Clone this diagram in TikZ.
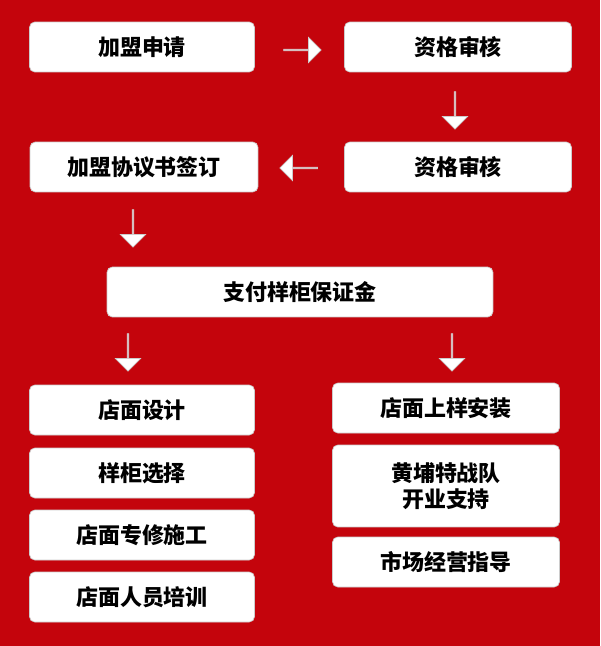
\documentclass[tikz,border=0pt]{standalone}
\usepackage{fontspec}
\newfontfamily\cjk{Noto Sans CJK SC}
\usetikzlibrary{shapes.arrows}
\definecolor{bgred}{RGB}{196,4,12}
\tikzset{
  box/.style={draw=gray!40,fill=white,rounded corners=3pt,minimum height=1cm,
    font=\cjk\bfseries\fontsize{12.5}{15}\selectfont,align=center,inner sep=0pt},
  blk/.style={single arrow,fill=white,draw=gray!40,inner sep=0pt,
    minimum width=0.5cm,single arrow head extend=0.12cm,minimum height=0.75cm}
}
\begin{document}
\begin{tikzpicture}[x=0.02cm,y=-0.02cm]
  \fill[bgred] (0,0) rectangle (600,646);
  % first row
  \node[box,minimum width=4.5cm] (apply) at (142,47) {加盟申请};
  \node[box,minimum width=4.54cm] (check1) at (458,47) {资格审核};
  \node[box,minimum width=4.54cm] (check2) at (458,167) {资格审核};
  \node[box,minimum width=4.56cm] (sign) at (144,167) {加盟协议书签订};
  \node[box,minimum width=7.72cm] (pay) at (300,292) {支付样柜保证金};
  % left column
  \node[box,minimum width=4.5cm] (design) at (142,410) {店面设计};
  \node[box,minimum width=4.5cm] (select) at (142,473) {样柜选择};
  \node[box,minimum width=4.5cm] (build) at (142,535) {店面专修施工};
  \node[box,minimum width=4.5cm] (train) at (142,597) {店面人员培训};
  % right column
  \node[box,minimum width=4.54cm] (install) at (446,408) {店面上样安装};
  \node[box,minimum width=4.54cm,minimum height=1.64cm] (team) at (446,486) {黄埔特战队\\开业支持};
  \node[box,minimum width=4.54cm] (guide) at (446,562) {市场经营指导};
  % arrows
  \node[blk] (a1) at (302,50) {};
  \node[blk,rotate=-90] (a2) at (455,110) {};
  \node[blk,rotate=180] (a3) at (299,168) {};
  \node[blk,rotate=-90] (a4) at (133,228) {};
  \node[blk,rotate=-90] (a5) at (128,352) {};
  \node[blk,rotate=-90] (a6) at (452,352) {};
\end{tikzpicture}
\end{document}
